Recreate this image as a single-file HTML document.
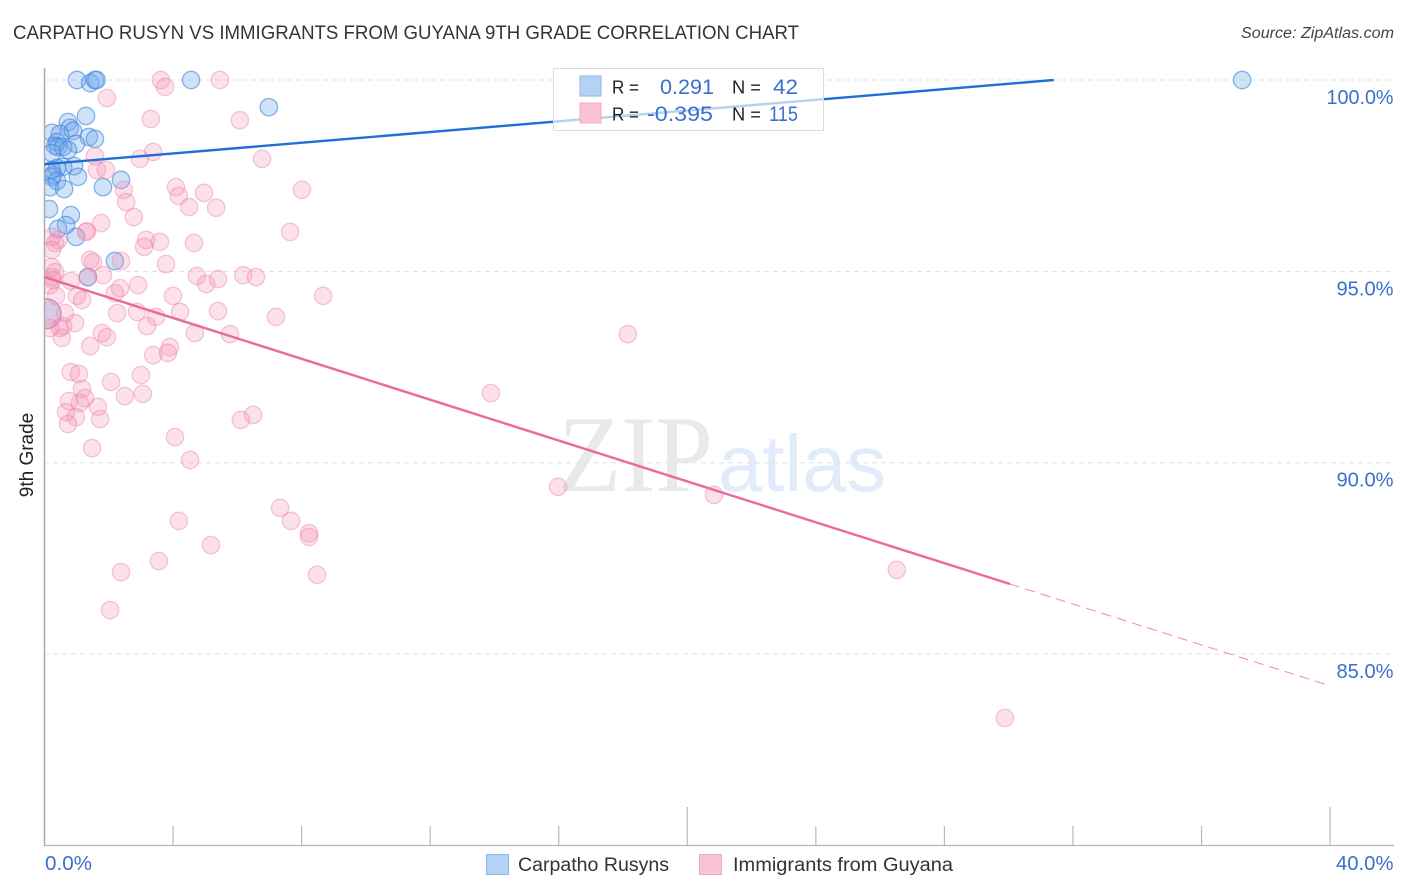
<!DOCTYPE html>
<html lang="en">
<head>
<meta charset="utf-8">
<title>Carpatho Rusyn vs Immigrants from Guyana 9th Grade Correlation Chart</title>
<style>
html,body{margin:0;padding:0;background:#fff;}
svg{display:block;font-family:"Liberation Sans",sans-serif;}
</style>
</head>
<body>
<svg id="chart" xmlns="http://www.w3.org/2000/svg" width="1406" height="892" viewBox="0 0 1406 892">
  <defs>
    <clipPath id="plot-clip"><rect x="45" y="60" width="1349" height="786"></rect></clipPath>
  </defs>
  <rect width="1406" height="892" fill="#fff"></rect>
  <text x="13" y="39" font-size="19" fill="#33333b" textLength="786" lengthAdjust="spacingAndGlyphs">CARPATHO RUSYN VS IMMIGRANTS FROM GUYANA 9TH GRADE CORRELATION CHART</text>
  <text x="1241" y="38" font-size="15.5" font-style="italic" fill="#444" textLength="153" lengthAdjust="spacingAndGlyphs">Source: ZipAtlas.com</text>
  <text x="558" y="491" font-size="109" fill="#e9e9e9" font-family="Liberation Serif, serif" textLength="155" lengthAdjust="spacingAndGlyphs">ZIP</text>
  <text x="718" y="491" font-size="80" fill="#e2ebfa" font-family="Liberation Sans, sans-serif" textLength="168" lengthAdjust="spacingAndGlyphs">atlas</text>
  <g id="grid"></g>
  <g id="axes"></g>
  <g id="points" clip-path="url(#plot-clip)"></g>
  <g id="trends"></g>
  <g>
    <rect x="553.5" y="68.5" width="270" height="62" fill="#fff" fill-opacity="0.68" stroke="#dcdcdc" stroke-width="1"></rect>
    <rect x="580" y="76" width="21" height="20" fill="#b5d1f6" stroke="#8db6ec" stroke-width="1"></rect>
    <rect x="580" y="103" width="21" height="20" fill="#fac3d5" stroke="#f3a9c2" stroke-width="1"></rect>
    <text x="612" y="93.5" font-size="18" fill="#222" textLength="27" lengthAdjust="spacingAndGlyphs">R =</text>
    <text x="660" y="94" font-size="21" fill="#3a70cc" textLength="54" lengthAdjust="spacingAndGlyphs">0.291</text>
    <text x="732" y="93.5" font-size="18" fill="#222" textLength="29" lengthAdjust="spacingAndGlyphs">N =</text>
    <text x="773" y="94" font-size="21" fill="#3a70cc" textLength="25" lengthAdjust="spacingAndGlyphs">42</text>
    <text x="612" y="120.5" font-size="18" fill="#222" textLength="27" lengthAdjust="spacingAndGlyphs">R =</text>
    <text x="647" y="121" font-size="21" fill="#3a70cc" textLength="66" lengthAdjust="spacingAndGlyphs">-0.395</text>
    <text x="732" y="120.5" font-size="18" fill="#222" textLength="29" lengthAdjust="spacingAndGlyphs">N =</text>
    <text x="769" y="121" font-size="21" fill="#3a70cc" textLength="29" lengthAdjust="spacingAndGlyphs">115</text>
  </g>
  <text transform="translate(33,455) rotate(-90)" font-size="19" fill="#222" text-anchor="middle">9th Grade</text>
  <g id="tick-labels"></g>
  <g>
    <rect x="486.5" y="854.5" width="22" height="20" fill="#b5d1f6" stroke="#8db6ec" stroke-width="1"></rect>
    <text x="518" y="871" font-size="19" fill="#333" textLength="151" lengthAdjust="spacingAndGlyphs">Carpatho Rusyns</text>
    <rect x="699.5" y="854.5" width="22" height="20" fill="#fac3d5" stroke="#f3a9c2" stroke-width="1"></rect>
    <text x="733" y="871" font-size="19" fill="#333" textLength="220" lengthAdjust="spacingAndGlyphs">Immigrants from Guyana</text>
  </g>
</svg>
<script>
const carpathoX = [1.01,1.42,1.57,1.62,4.56,6.98,37.26,1.29,0.73,0.23,0.79,0.89,0.48,1.38,1.57,0.98,0.39,0.33,0.42,0.58,0.73,0.23,0.92,0.58,0.39,1.04,0.26,0.23,0.39,0.17,0.61,1.82,2.38,0.14,0.82,0.67,0.42,0.98,2.19,1.35,0.23];
const carpathoY = [100,99.92,100,100,100,99.29,100,99.06,98.90,98.62,98.75,98.67,98.59,98.51,98.46,98.33,98.38,98.28,98.25,98.25,98.17,98.09,97.75,97.73,97.70,97.47,97.52,97.47,97.36,97.20,97.15,97.20,97.39,96.63,96.47,96.21,96.11,95.90,95.27,94.85,97.65];
const guyanaX = [1.94,3.62,3.75,5.46,3.31,6.08,6.77,3.38,2.97,1.57,1.63,1.91,2.47,2.54,2.78,4.09,4.18,4.96,4.50,5.34,8.01,7.64,1.76,1.32,1.29,3.16,3.59,3.10,4.65,0.42,0.33,0.23,0.23,1.42,1.51,2.38,3.78,0.23,0.33,4.74,5.03,5.40,6.18,6.58,8.67,2.91,2.35,2.19,4.00,1.82,0.82,0.26,0.17,0.23,0.36,1.01,1.17,2.26,2.88,3.47,4.22,5.40,7.20,0.64,0.95,0.58,0.48,0.17,0.54,1.79,1.94,3.19,4.68,5.77,1.42,3.38,3.90,3.84,0.82,1.07,2.07,3.00,2.50,3.06,1.17,1.26,1.10,0.76,0.67,0.98,0.73,1.66,1.73,1.48,4.06,4.53,6.11,6.49,7.33,7.67,4.18,5.18,3.56,2.38,2.04,8.23,8.23,8.48,13.89,15.98,20.83,18.15,26.52,29.88,1.35];
const guyanaY = [99.53,100,99.82,100,98.98,98.95,97.94,98.12,97.94,98.01,97.65,97.65,97.13,96.81,96.42,97.20,96.97,97.05,96.68,96.66,97.13,96.03,96.26,96.05,96.03,95.82,95.77,95.64,95.74,95.82,95.74,95.90,95.56,95.30,95.24,95.27,95.19,95.11,94.98,94.88,94.67,94.80,94.90,94.85,94.36,94.64,94.56,94.43,94.36,94.90,94.75,94.77,94.64,94.85,94.36,94.36,94.25,93.91,93.94,93.81,93.94,93.96,93.81,93.91,93.65,93.57,93.52,93.52,93.26,93.39,93.28,93.57,93.39,93.36,93.05,92.81,93.02,92.87,92.37,92.32,92.11,92.29,91.74,91.80,91.93,91.69,91.56,91.61,91.32,91.19,91.01,91.46,91.14,90.38,90.67,90.07,91.12,91.25,88.82,88.48,88.48,87.85,87.43,87.14,86.15,88.16,88.06,87.07,91.82,89.37,89.16,93.36,87.20,83.33,94.85];
const heavyCarpathoX = [0.05];
const heavyCarpathoY = [93.89];
const heavyGuyanaX = [0.05];
const heavyGuyanaY = [93.89];
const carpathoTrendX = [0, 31.4];
const carpathoTrendY = [97.8, 100];
const guyanaTrendX = [0, 30.04];
const guyanaTrendY = [94.85, 86.83];
const guyanaTrendDashX = [30.04, 40];
const guyanaTrendDashY = [86.83, 84.17];
const yTicks = [100, 95, 90, 85];
const yTickLabels = ["100.0%", "95.0%", "90.0%", "85.0%"];
const xTicks = [4, 8, 12, 16, 20, 24, 28, 32, 36, 40];
const xMajorTicks = [20, 40];
const xEndLabels = ["0.0%", "40.0%"];

const NS = "http://www.w3.org/2000/svg";
function xPos(v){ return 44.5 + v * 32.14; }
function yPos(v){ return 80 + (100 - v) * 38.27; }
function make(tag, parent, attrs, text){
  const el = document.createElementNS(NS, tag);
  Object.keys(attrs).forEach(function(k){ el.setAttribute(k, attrs[k]); });
  if (text !== undefined) el.textContent = text;
  parent.appendChild(el);
  return el;
}
function labelWidth(s){ return s.length === 6 ? 67 : 57; }
const gridG = document.getElementById("grid");
const axesG = document.getElementById("axes");
const pointsG = document.getElementById("points");
const trendsG = document.getElementById("trends");
const labelsG = document.getElementById("tick-labels");

yTicks.forEach(function(t, i){
  const line = make("line", gridG, {x1:44, x2:1394, y1:yPos(t), y2:yPos(t), stroke:"#e0e0e0", "stroke-width":1, "stroke-dasharray":"5 4"});
  
  
  const w = labelWidth(yTickLabels[i]);
  const label = make("text", labelsG, {x:1393.5-w, y:yPos(t)+24, "font-size":20, fill:"#3a70cc", textLength:w, lengthAdjust:"spacingAndGlyphs"}, yTickLabels[i]);
  
  
});

const yAxis = make("line", axesG, {x1:44.5, x2:44.5, y1:68, y2:846, stroke:"#aaa", "stroke-width":1.5});


const xAxis = make("line", axesG, {x1:44, x2:1394, y1:845.5, y2:845.5, stroke:"#b4b4b4", "stroke-width":1.3});


xTicks.forEach(function(t){
  const top = xMajorTicks.indexOf(t) >= 0 ? 807 : 826;
  const tick = make("line", axesG, {x1:xPos(t), x2:xPos(t), y1:top, y2:846, stroke:"#b8b8b8", "stroke-width":1.2});
  
  
});
const xLabel0 = make("text", labelsG, {x:45, y:870, "font-size":20, fill:"#3a70cc", textLength:47, lengthAdjust:"spacingAndGlyphs"}, xEndLabels[0]);


const xLabel1 = make("text", labelsG, {x:1336, y:870, "font-size":20, fill:"#3a70cc", textLength:57.5, lengthAdjust:"spacingAndGlyphs"}, xEndLabels[1]);



function drawSeries(xs, ys, r, fill, fillOpacity, stroke, strokeOpacity, name){
  xs.forEach(function(x, i){
    const c = make("circle", pointsG, {cx:xPos(x), cy:yPos(ys[i]), r:r, fill:fill, "fill-opacity":fillOpacity, stroke:stroke, "stroke-opacity":strokeOpacity, "stroke-width":1.3});
    
    
  });
}
drawSeries(carpathoX, carpathoY, 8.7, "#6ea6ea", 0.32, "#3d86e0", 0.6, "carpatho-point");
drawSeries(heavyCarpathoX, heavyCarpathoY, 15, "#6ea6ea", 0.32, "#3d86e0", 0.6, "carpatho-large-point");
drawSeries(guyanaX, guyanaY, 8.7, "#f390b2", 0.28, "#ec7fa6", 0.42, "guyana-point");
drawSeries(heavyGuyanaX, heavyGuyanaY, 15, "#f390b2", 0.28, "#ec7fa6", 0.42, "guyana-large-point");

const blueLine = make("line", trendsG, {x1:xPos(carpathoTrendX[0]), y1:yPos(carpathoTrendY[0]), x2:xPos(carpathoTrendX[1]), y2:yPos(carpathoTrendY[1]), stroke:"#1f6fd6", "stroke-width":2.4});


const pinkLine = make("line", trendsG, {x1:xPos(guyanaTrendX[0]), y1:yPos(guyanaTrendY[0]), x2:xPos(guyanaTrendX[1]), y2:yPos(guyanaTrendY[1]), stroke:"#ea6a9a", "stroke-width":2.4});


const pinkDash = make("line", trendsG, {x1:xPos(guyanaTrendDashX[0]), y1:yPos(guyanaTrendDashY[0]), x2:xPos(guyanaTrendDashX[1]), y2:yPos(guyanaTrendDashY[1]), stroke:"#ea6a9a", "stroke-width":1, "stroke-dasharray":"10 6", "stroke-opacity":0.8});


</script>
</body>
</html>
